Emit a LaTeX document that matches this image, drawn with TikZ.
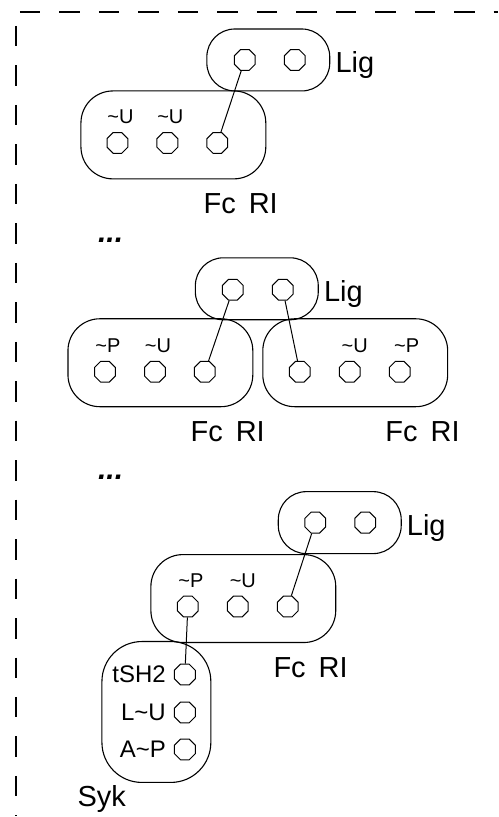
\documentclass[tikz,border=0pt]{standalone}
\usepackage{fontspec}
\setmainfont{Liberation Sans}
\usetikzlibrary{shapes.geometric, positioning, calc}
\tikzset{
  domainbox/.style={draw, line width=1.1pt, rounded corners=28pt, inner sep=0pt},
  ligbox/.style={domainbox, minimum width=123pt, minimum height=62pt},
  rcpbox/.style={domainbox, minimum width=185pt, minimum height=88pt, rounded corners=32pt},
  dock/.style={draw, regular polygon, regular polygon sides=8, minimum size=22.5pt, inner sep=0pt, line width=1pt},
  bigtext/.style={inner sep=0pt, font=\fontsize{29}{32}\selectfont},
  midtext/.style={inner sep=0pt, font=\fontsize{24}{27}\selectfont},
  tiptext/.style={inner sep=0pt, font=\fontsize{20}{22}\selectfont},
  dotstext/.style={inner sep=0pt, font=\fontsize{30}{32}\selectfont\bfseries\itshape},
  bond/.style={line width=1pt},
  borderdash/.style={line width=1.2pt, dash pattern=on 20.5pt off 19pt}
}

\begin{document}
\begin{tikzpicture}[x=1pt, y=-1pt]
\fill[white] (0,0) rectangle (498,817);
\draw[borderdash] (20,12) -- (498,12);
\draw[borderdash] (16,26) -- (16,817);

\node[ligbox] (ligA) at (268.5,60) {};
\node[dock] (ligA1) at (245,60) {};
\node[dock] (ligA2) at (295,60) {};
\node[bigtext, right=5pt of ligA, yshift=-5pt] (ligAtxt) {Lig};
\node[rcpbox] (rcpA) at (173.5,135) {};
\node[dock] (rcpA1) at (117.5,143) {};
\node[dock] (rcpA2) at (167.5,143) {};
\node[dock] (rcpA3) at (217.5,143) {};
\node[tiptext, above=8pt of rcpA1, xshift=3pt] (tipA1) {\textasciitilde U};
\node[tiptext, above=8pt of rcpA2, xshift=3pt] (tipA2) {\textasciitilde U};
\node[bigtext, anchor=base west] (fcA) at ($(rcpA.south)+(30,34)$) {Fc\hspace{0.45em}RI};
\draw[bond] (ligA1) -- (rcpA3);

\node[dotstext, anchor=base west] (dotsA) at (98,243) {...};

\node[ligbox] (ligB) at (257,289) {};
\node[dock] (ligB1) at (233,290) {};
\node[dock] (ligB2) at (283,290) {};
\node[bigtext, right=5pt of ligB, yshift=-5pt] (ligBtxt) {Lig};
\node[rcpbox] (rcpL) at (160.5,363) {};
\node[dock] (rcpL1) at (105,372) {};
\node[dock] (rcpL2) at (155,372) {};
\node[dock] (rcpL3) at (205,372) {};
\node[tiptext, above=8pt of rcpL1, xshift=3pt] (tipL1) {\textasciitilde P};
\node[tiptext, above=8pt of rcpL2, xshift=3pt] (tipL2) {\textasciitilde U};
\node[bigtext, anchor=base west] (fcL) at ($(rcpL.south)+(30,34)$) {Fc\hspace{0.45em}RI};
\node[rcpbox] (rcpR) at (355.5,363) {};
\node[dock] (rcpR1) at (300,372) {};
\node[dock] (rcpR2) at (350,372) {};
\node[dock] (rcpR3) at (400,372) {};
\node[tiptext, above=8pt of rcpR2, xshift=5pt] (tipR2) {\textasciitilde U};
\node[tiptext, above=8pt of rcpR3, xshift=7pt] (tipR3) {\textasciitilde P};
\node[bigtext, anchor=base west] (fcR) at ($(rcpR.south)+(30,34)$) {Fc\hspace{0.45em}RI};
\draw[bond] (ligB1) -- (rcpL3);
\draw[bond] (ligB2) -- (rcpR1);

\node[dotstext, anchor=base west] (dotsB) at (98,480) {...};

\node[ligbox] (ligC) at (340,523) {};
\node[dock] (ligC1) at (315.5,523) {};
\node[dock] (ligC2) at (365.5,523) {};
\node[bigtext, right=5pt of ligC, yshift=-5pt] (ligCtxt) {Lig};
\node[rcpbox] (rcpC) at (243.5,599) {};
\node[dock] (rcpC1) at (188,607) {};
\node[dock] (rcpC2) at (238,607) {};
\node[dock] (rcpC3) at (288,607) {};
\node[tiptext, above=8pt of rcpC1, xshift=3pt] (tipC1) {\textasciitilde P};
\node[tiptext, above=8pt of rcpC2, xshift=5pt] (tipC2) {\textasciitilde U};
\node[bigtext, anchor=base west] (fcC) at ($(rcpC.south)+(30,34)$) {Fc\hspace{0.45em}RI};
\node[domainbox, rounded corners=40pt, minimum width=109pt, minimum height=141pt] (syk) at (156.5,712.5) {};
\node[dock] (syk1) at (185,675) {};
\node[dock] (syk2) at (185,713) {};
\node[dock] (syk3) at (185,750) {};
\node[midtext, left=8pt of syk1] (syk1txt) {tSH2};
\node[midtext, left=8pt of syk2] (syk2txt) {L\textasciitilde U};
\node[midtext, left=8pt of syk3] (syk3txt) {A\textasciitilde P};
\node[bigtext, anchor=base west] (syktxt) at ($(syk.south west)+(-24,24)$) {Syk};
\draw[bond] (ligC1) -- (rcpC3);
\draw[bond] (rcpC1) -- (syk1);
\end{tikzpicture}
\end{document}
